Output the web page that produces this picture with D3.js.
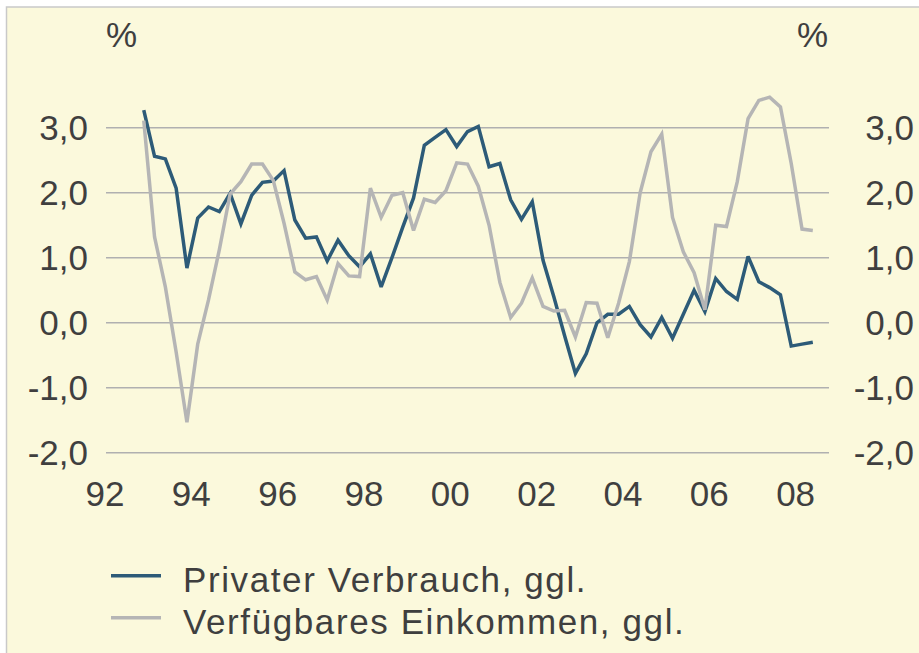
<!DOCTYPE html>
<html>
<head>
<meta charset="utf-8">
<script src="https://cdn.jsdelivr.net/npm/d3@7"></script>
<style>
  body { margin: 0; background: #fff; }
  svg text { font-family: "Liberation Sans", Arial, sans-serif; fill: #3f3f3f; }
</style>
</head>
<body>
<div id="chart"></div>
<script>
// quarterly data, first quarter 1992 Q4, last 2008 Q2
const startYear = 1992;
const startQuarter = 4;

const privaterVerbrauch = [
  3.27, 2.56, 2.52, 2.07, 0.84, 1.61, 1.78, 1.71, 1.99, 1.52,
  1.96, 2.16, 2.18, 2.34, 1.58, 1.30, 1.32, 0.95, 1.27, 1.03,
  0.86, 1.06, 0.55, 1.00, 1.47, 1.92, 2.73, 2.85, 2.97, 2.71,
  2.94, 3.02, 2.40, 2.45, 1.89, 1.59, 1.86, 0.96, 0.40, -0.20,
  -0.78, -0.48, 0.00, 0.13, 0.13, 0.25, -0.03, -0.22, 0.08, -0.24,
  0.13, 0.50, 0.17, 0.68, 0.48, 0.36, 1.02, 0.63, 0.54, 0.43,
  -0.36, -0.33, -0.30
];

const verfuegbaresEinkommen = [
  3.11, 1.32, 0.55, -0.45, -1.53, -0.33, 0.35, 1.12, 1.98, 2.17,
  2.44, 2.44, 2.19, 1.53, 0.78, 0.66, 0.71, 0.35, 0.91, 0.72,
  0.71, 2.07, 1.62, 1.96, 2.00, 1.42, 1.90, 1.85, 2.03, 2.46,
  2.44, 2.10, 1.50, 0.62, 0.08, 0.30, 0.69, 0.25, 0.18, 0.19,
  -0.22, 0.31, 0.30, -0.23, 0.30, 0.94, 2.00, 2.63, 2.90, 1.62,
  1.09, 0.77, 0.20, 1.50, 1.48, 2.17, 3.14, 3.42, 3.47, 3.32,
  2.45, 1.44, 1.42
];

const yearTicks = [1992, 1994, 1996, 1998, 2000, 2002, 2004, 2006, 2008];
const yearLabels = ['92', '94', '96', '98', '00', '02', '04', '06', '08'];
const yTicks = [-2, -1, 0, 1, 2, 3];

const legendLabels = ['Privater Verbrauch, ggl.', 'Verfügbares Einkommen, ggl.'];
const colors = ['#2d5b78', '#b5b5b5'];

const width = 919;
const height = 653;

// time of each point (centre of its quarter)
const quarterTime = (i) => startYear + (startQuarter - 1 + i + 0.5) / 4;

const svg = d3.select('#chart')
  .append('svg')
  .attr('width', width)
  .attr('height', height);

svg.append('rect')
  .attr('x', 6.5)
  .attr('y', 7)
  .attr('width', width)
  .attr('height', height)
  .attr('fill', '#fbf9dc')
  .attr('stroke', '#c9c9c9')
  .attr('stroke-width', 1.5);

const x = d3.scaleLinear()
  .domain([1992, 2008.75])
  .range([106, 829]);

const y = d3.scaleLinear()
  .domain([-2, 3])
  .range([452.7, 127.7]);

const fmt = (d) => d3.format('.1f')(d).replace('.', ',').replace('\u2212', '-');

// gridlines
svg.append('g')
  .selectAll('line')
  .data(yTicks)
  .enter()
  .append('line')
  .attr('x1', x.range()[0])
  .attr('x2', x.range()[1])
  .attr('y1', (d) => y(d))
  .attr('y2', (d) => y(d))
  .attr('stroke', '#b0b0b0')
  .attr('stroke-width', 1.6);

// axes
const leftAxis = svg.append('g')
  .attr('transform', `translate(${x.range()[0]},0)`)
  .call(d3.axisLeft(y).tickValues(yTicks).tickSize(0).tickPadding(18).tickFormat(fmt));

// right labels are right-aligned near the page edge
const rightAxis = svg.append('g')
  .attr('transform', `translate(${x.range()[1]},0)`)
  .call(d3.axisRight(y).tickValues(yTicks).tickSize(0).tickPadding(85).tickFormat(fmt));
rightAxis.selectAll('text').attr('text-anchor', 'end');

const bottomAxis = svg.append('g')
  .attr('transform', `translate(-1.5,${y(-2)})`)
  .call(d3.axisBottom(x).tickValues(yearTicks).tickSize(0).tickPadding(28)
    .tickFormat((d, i) => yearLabels[i]));

[leftAxis, rightAxis, bottomAxis].forEach((a) => {
  a.select('.domain').remove();
  a.selectAll('text')
    .attr('fill', '#3f3f3f')
    .style('font-size', '35px')
    .style('font-family', '"Liberation Sans", Arial, sans-serif');
});
leftAxis.selectAll('text').attr('dy', '0.35em');
rightAxis.selectAll('text').attr('dy', '0.35em');

// unit labels
svg.append('text')
  .attr('x', 106)
  .attr('y', 47)
  .style('font-size', '35px')
  .text('%');

svg.append('text')
  .attr('x', 797)
  .attr('y', 47)
  .style('font-size', '35px')
  .text('%');

// lines
const line = d3.line()
  .x((d, i) => x(quarterTime(i)))
  .y((d) => y(d));

[privaterVerbrauch, verfuegbaresEinkommen].forEach((series, s) => {
  svg.append('path')
    .datum(series)
    .attr('fill', 'none')
    .attr('stroke', colors[s])
    .attr('stroke-width', 3.5)
    .attr('stroke-linejoin', 'miter')
    .attr('stroke-miterlimit', 3)
    .attr('d', line);
});

// legend
const legend = svg.append('g')
  .selectAll('g')
  .data(legendLabels)
  .enter()
  .append('g')
  .attr('transform', (d, i) => `translate(111, ${575.7 + i * 42})`);

legend.append('line')
  .attr('x1', 0)
  .attr('x2', 50)
  .attr('stroke', (d, i) => colors[i])
  .attr('stroke-width', 3.5);

legend.append('text')
  .attr('x', 72)
  .attr('y', 16)
  .style('font-size', '35px')
  .style('letter-spacing', '1.6px')
  .text((d) => d);
</script>
</body>
</html>
